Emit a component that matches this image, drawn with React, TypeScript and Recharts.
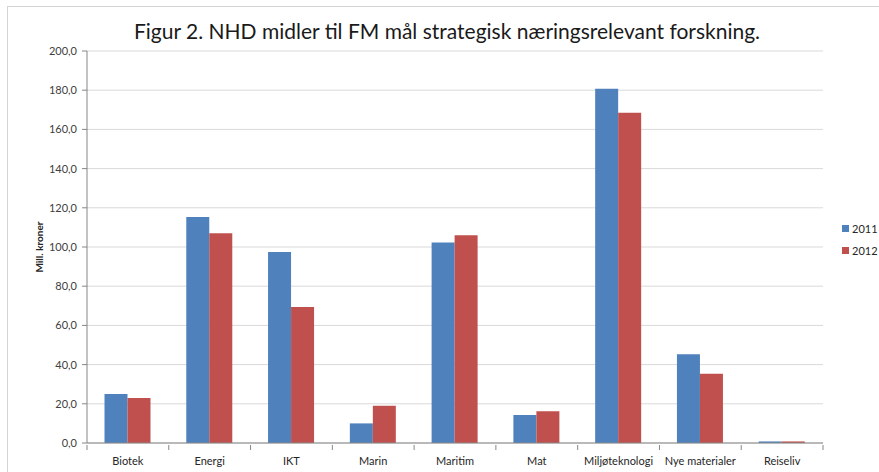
import { Bar, BarChart, CartesianGrid, XAxis, YAxis } from "recharts";

const CATEGORIES = [
  "Biotek",
  "Energi",
  "IKT",
  "Marin",
  "Maritim",
  "Mat",
  "Miljøteknologi",
  "Nye materialer",
  "Reiseliv",
];
const VALUES_2011 = [25.0, 115.3, 97.4, 10.0, 102.3, 14.3, 180.7, 45.3, 0.8];
const VALUES_2012 = [23.0, 107.0, 69.4, 19.0, 106.0, 16.2, 168.5, 35.3, 0.8];
const Y_TICKS = [0, 20, 40, 60, 80, 100, 120, 140, 160, 180, 200];

const BLUE = "#4f81bd";
const RED = "#c0504d";
const FONT = "Lato, 'Open Sans', sans-serif";

const data = CATEGORIES.map((name, i) => ({
  name,
  y2011: VALUES_2011[i],
  y2012: VALUES_2012[i],
}));

function CategoryTick(props: any) {
  const { x, y, payload, index, visibleTicksCount } = props;
  const half = payload.offset ?? 0;
  const isLast = index === visibleTicksCount - 1;
  return (
    <g>
      <line x1={x - half} x2={x - half} y1={y - 6} y2={y - 1} stroke="#868686" />
      {isLast && <line x1={x + half} x2={x + half} y1={y - 6} y2={y - 1} stroke="#868686" />}
      <text x={x} y={y + 14} textAnchor="middle" fontSize={11} fill="#262626" fontFamily={FONT}>
        {payload.value}
      </text>
    </g>
  );
}

function AxisTitle(props: any) {
  const { viewBox } = props;
  const cy = viewBox.y + viewBox.height / 2;
  return (
    <text
      x={40}
      y={cy}
      transform={`rotate(-90 40 ${cy})`}
      textAnchor="middle"
      dominantBaseline="middle"
      fontSize={10}
      fontWeight="bold"
      fill="#262626"
      fontFamily={FONT}
    >
      Mill. kroner
    </text>
  );
}

export default function App() {
  return (
    <div style={{ position: "absolute", left: 0, top: 0, width: 879, height: 472, background: "#fff", overflow: "hidden" }}>
      <div
        style={{
          position: "absolute",
          left: 7,
          top: 6,
          width: 890,
          height: 480,
          borderLeft: "1px solid #d4d4d4",
          borderTop: "1px solid #d4d4d4",
        }}
      />
      <div
        style={{
          position: "absolute",
          left: 0,
          top: 18,
          width: 894,
          textAlign: "center",
          fontFamily: FONT,
          fontSize: 21,
          color: "#1a1a1a",
        }}
      >
        Figur 2. NHD midler til FM mål strategisk næringsrelevant forskning.
      </div>
      <div style={{ position: "absolute", left: 0, top: 0 }}>
        <BarChart
          width={879}
          height={472}
          data={data}
          margin={{ top: 51, right: 56, left: 27, bottom: 0 }}
          barCategoryGap="21.4%"
          barGap={0}
        >
          <CartesianGrid stroke="#d9d9d9" vertical={false} />
          <XAxis
            dataKey="name"
            height={29}
            interval={0}
            tickLine={false}
            axisLine={{ stroke: "#868686" }}
            tick={<CategoryTick />}
          />
          <YAxis
            width={60}
            domain={[0, 200]}
            ticks={Y_TICKS}
            interval={0}
            axisLine={{ stroke: "#868686" }}
            tickLine={{ stroke: "#868686" }}
            tickSize={5}
            tickMargin={5}
            tick={{ fontSize: 11, fill: "#404040", fontFamily: FONT }}
            tickFormatter={(v: number) => v.toFixed(1).replace(".", ",")}
            label={<AxisTitle />}
          />
          <Bar dataKey="y2011" name="2011" fill={BLUE} isAnimationActive={false} />
          <Bar dataKey="y2012" name="2012" fill={RED} isAnimationActive={false} />
        </BarChart>
      </div>
      {[
        { label: "2011", color: BLUE, top: 222 },
        { label: "2012", color: RED, top: 244 },
      ].map((item) => (
        <div
          key={item.label}
          style={{
            position: "absolute",
            left: 842,
            top: item.top,
            display: "flex",
            alignItems: "center",
            fontFamily: FONT,
            fontSize: 11,
            color: "#262626",
            whiteSpace: "nowrap",
          }}
        >
          <span style={{ display: "inline-block", width: 7, height: 7, background: item.color, marginRight: 3 }} />
          {item.label}
        </div>
      ))}
    </div>
  );
}
